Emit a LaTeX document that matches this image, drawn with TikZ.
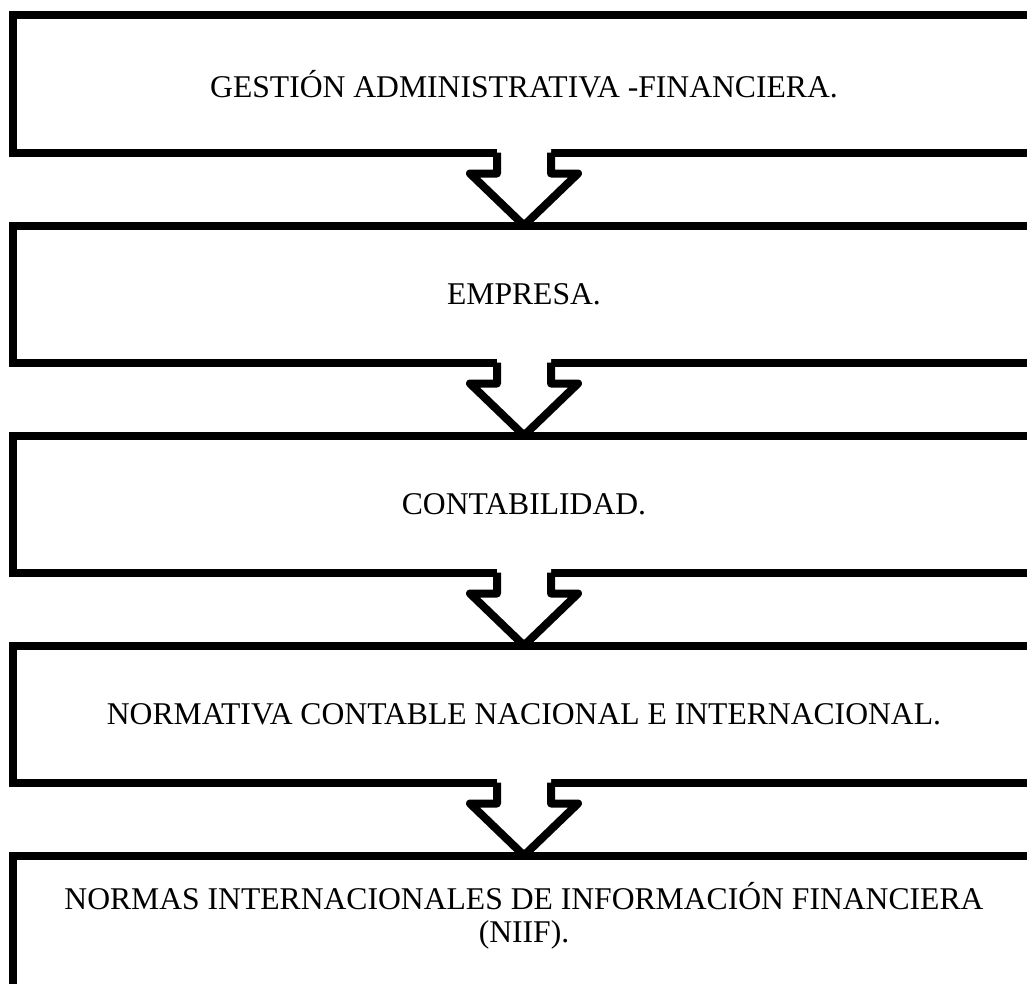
\documentclass[tikz,border=0pt]{standalone}
\usepackage{fontspec}
\setmainfont{Liberation Serif}
\usetikzlibrary{positioning,calc}

\tikzset{
  rotulo/.style={font=\fontsize{27}{28}\selectfont, align=center},
  caja/.style={rotulo, draw, line width=2.4mm, minimum width=30.66cm, minimum height=4.11cm, outer sep=0pt},
  flecha/.style={line width=2.4mm, line join=round},
}

\begin{document}
\begin{tikzpicture}[x=0.3mm, y=-0.3mm, node distance=2.19cm]
        \useasboundingbox (0,0) rectangle (1027,984);
        \clip (0,0) rectangle (1027,984);
        \node[caja] (b1) at (524,84) {GESTIÓN ADMINISTRATIVA -FINANCIERA.};
        \node[caja, below=of b1] (b2) {EMPRESA.};
        \node[caja, below=of b2] (b3) {CONTABILIDAD.};
        \node[caja, below=of b3] (b4) {NORMATIVA CONTABLE NACIONAL E INTERNACIONAL.};
        \node[caja, below=of b4] (b5) {};
        \node[rotulo] (t5) at ($(b5.north)+(0,60)$) {NORMAS INTERNACIONALES DE INFORMACIÓN FINANCIERA\\(NIIF).};
        % flechas huecas entre cajas
        \foreach \a/\b in {b1/b2, b2/b3, b3/b4, b4/b5} {
          \fill[white] ($(\a.south)+(-27,-5)$) |- ($(\a.south)+(-54,21)$) -- (\b.north)
            -- ($(\a.south)+(54,21)$) -| ($(\a.south)+(27,-5)$) -- cycle;
          \draw[flecha] ($(\a.south)+(-27,0)$) -- ($(\a.south)+(-27,21)$) -- ($(\a.south)+(-54,21)$)
            -- (\b.north) -- ($(\a.south)+(54,21)$) -- ($(\a.south)+(27,21)$) -- ($(\a.south)+(27,0)$);
        }
      \end{tikzpicture}
\end{document}
